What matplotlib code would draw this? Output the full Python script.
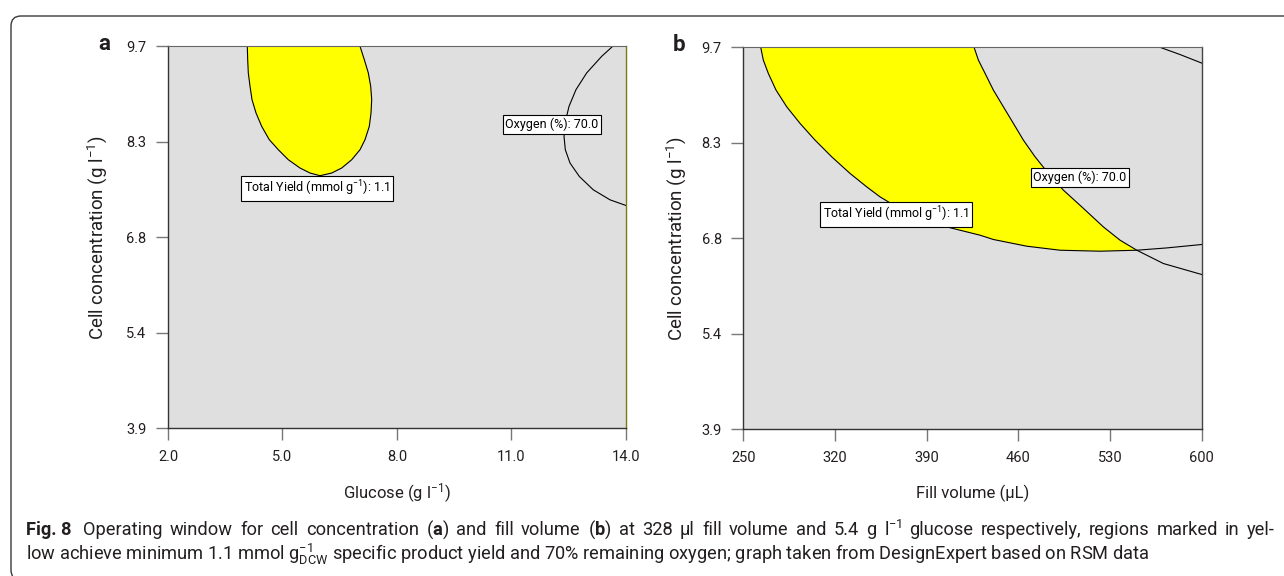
import numpy as np
import matplotlib
matplotlib.use("Agg")
import matplotlib.pyplot as plt
from matplotlib import font_manager
from matplotlib.patches import FancyBboxPatch


# values
glucose_ticks = [2.0, 5.0, 8.0, 11.0, 14.0]
fill_ticks = [250, 320, 390, 460, 530, 600]
conc_ticks = [3.9, 5.35, 6.8, 8.25, 9.7]
conc_ticklabels = ["3.9", "5.4", "6.8", "8.3", "9.7"]

# panel a: total yield = 1.1 contour (closes on the top edge)
yield_a_glucose = [4.078, 4.088, 4.104, 4.149, 4.201, 4.306, 4.455, 4.654, 4.890,
                   5.152, 5.459, 5.721, 5.983, 6.289, 6.551, 6.813, 7.031, 7.162,
                   7.274, 7.319, 7.337, 7.311, 7.248, 7.143, 7.031]
yield_a_conc = [9.700, 9.498, 9.296, 9.092, 8.890, 8.688, 8.484, 8.282, 8.130,
                7.978, 7.852, 7.776, 7.735, 7.776, 7.852, 7.978, 8.130, 8.282,
                8.484, 8.688, 8.890, 9.092, 9.296, 9.498, 9.700]

# panel a: oxygen = 70 % contour
oxygen_a_glucose = [13.652, 13.364, 12.970, 12.690, 12.507, 12.402, 12.376,
                    12.410, 12.533, 12.777, 13.143, 13.581, 14.000]
oxygen_a_conc = [9.700, 9.548, 9.296, 9.042, 8.788, 8.536, 8.332,
                 8.130, 7.928, 7.724, 7.521, 7.369, 7.283]

# panel b: total yield = 1.1 contour
yield_b_fill = [263.29, 265.27, 269.09, 274.97, 283.14, 293.29, 304.74, 317.50,
                331.47, 344.22, 354.38, 367.13, 384.92, 405.30, 430.73, 440.88,
                466.38, 491.81, 522.35, 550.37, 573.28, 600.00]
yield_b_conc = [9.700, 9.507, 9.304, 9.051, 8.797, 8.545, 8.291, 8.037,
                7.785, 7.581, 7.429, 7.277, 7.125, 6.973, 6.847, 6.782,
                6.680, 6.619, 6.604, 6.619, 6.654, 6.706]

# panel b: oxygen = 70 % contours
oxygen_b_fill = [426.15, 429.43, 434.55, 440.88, 448.52, 456.15, 463.79, 472.72,
                 482.88, 494.33, 508.38, 524.87, 537.62, 550.37, 570.68, 600.00]
oxygen_b_conc = [9.700, 9.507, 9.304, 9.051, 8.797, 8.545, 8.291, 8.037,
                 7.785, 7.531, 7.277, 6.973, 6.771, 6.619, 6.417, 6.250]
oxygen_b2_fill = [568.1, 583.4, 600.0]
oxygen_b2_conc = [9.70, 9.59, 9.46]

# where yield and oxygen contours cross in panel b (index in each list)
cross_yield_b = 19
cross_oxygen_b = 13

yield_label = "Total Yield (mmol g$^{-1}$): 1.1"
oxygen_label = "Oxygen (%): 70.0"
label_pos_a = {"yield": (5.90, 7.54), "oxygen": (12.06, 8.51)}
label_pos_b = {"yield": (366.7, 7.16), "oxygen": (507.0, 7.73)}

caption_1 = (r"Operating window for cell concentration ($\mathbf{a}$) and fill volume "
             r"($\mathbf{b}$) at 328 µl fill volume and 5.4 g l$^{-1}$ glucose "
             r"respectively, regions marked in yel-")
caption_2 = (r"low achieve minimum 1.1 mmol g$_{\mathrm{DCW}}^{-1}$ specific product "
             r"yield and 70% remaining oxygen; graph taken from DesignExpert based on RSM data")


def pick_font(*names):
    have = {f.name for f in font_manager.fontManager.ttflist}
    for n in names:
        if n in have:
            return n
    return "DejaVu Sans"


FONT = pick_font("Roboto", "Lato", "Open Sans", "Noto Sans")
plt.rcParams["font.family"] = [FONT, "DejaVu Sans"]
plt.rcParams["mathtext.fontset"] = "custom"
plt.rcParams["mathtext.rm"] = FONT
plt.rcParams["mathtext.bf"] = FONT + ":bold"
plt.rcParams["mathtext.it"] = FONT + ":italic"

BG = "#dfdfdf"
YELLOW = "#ffff00"
TXT = "#231f20"
BOX = dict(boxstyle="square,pad=0.22", fc="white", ec="black", lw=0.8)


def style_axes(ax, xticks, xfmt, xlabel, letter, xlab_y, ylab_x, right_color):
    ax.set_facecolor(BG)
    ax.set_ylim(3.9, 9.7)
    ax.set_yticks(conc_ticks)
    ax.set_yticklabels(conc_ticklabels)
    ax.set_xticks(xticks)
    ax.set_xticklabels([xfmt.format(v) for v in xticks])
    ax.tick_params(length=8.5, width=1.0, color="#777777", labelsize=10.5,
                   labelcolor=TXT, pad=7)
    for s in ["left", "bottom"]:
        ax.spines[s].set_color("#333333")
        ax.spines[s].set_linewidth(1.0)
    ax.spines["top"].set_color("#666666")
    ax.spines["right"].set_color(right_color)
    ax.spines["right"].set_linewidth(1.0)
    ax.set_xlabel(xlabel, fontsize=12, color=TXT, va="center")
    ax.xaxis.set_label_coords(0.5, xlab_y)
    ax.set_ylabel("Cell concentration (g l$^{-1}$)", fontsize=13.5, color=TXT, va="center")
    ax.yaxis.set_label_coords(ylab_x, 0.5)
    ax.text(-0.14, 1.007, letter, transform=ax.transAxes, fontsize=16,
            fontweight="bold", ha="center", va="center", color=TXT)


fig = plt.figure(figsize=(12.84, 5.76), dpi=100)

# rounded frame around the whole figure
frame = FancyBboxPatch((0.11, 5.76 - 5.80), 13.2, 5.64,
                       boxstyle="round,pad=0,rounding_size=0.1",
                       transform=fig.dpi_scale_trans, fc="none", ec="#3a3a3a", lw=1.0,
                       clip_on=False)
fig.patches.append(frame)

# ---- panel a ----
ax_a = fig.add_axes([168 / 1284, 1 - 428.3 / 576, 458 / 1284, 382 / 576])
ax_a.set_xlim(2.0, 14.0)
ax_a.fill(yield_a_glucose, yield_a_conc, color=YELLOW, lw=0, zorder=1)
ax_a.plot(yield_a_glucose, yield_a_conc, color="black", lw=0.8, zorder=2)
ax_a.plot(oxygen_a_glucose, oxygen_a_conc, color="black", lw=0.8, zorder=2)
ax_a.text(*label_pos_a["yield"], yield_label, fontsize=9, ha="center", va="center",
          bbox=BOX, zorder=3)
ax_a.text(*label_pos_a["oxygen"], oxygen_label, fontsize=9, ha="center", va="center",
          bbox=BOX, zorder=3)
style_axes(ax_a, glucose_ticks, "{:.1f}", "Glucose (g l$^{-1}$)", "a",
           -0.170, -0.155, "#7a7a10")

# ---- panel b ----
ax_b = fig.add_axes([743.3 / 1284, 1 - 429.3 / 576, 458.5 / 1284, 382 / 576])
ax_b.set_xlim(250, 600)
region_x = np.concatenate([yield_b_fill[:cross_yield_b + 1],
                           oxygen_b_fill[:cross_oxygen_b + 1][::-1]])
region_y = np.concatenate([yield_b_conc[:cross_yield_b + 1],
                           oxygen_b_conc[:cross_oxygen_b + 1][::-1]])
ax_b.fill(region_x, region_y, color=YELLOW, lw=0, zorder=1)
ax_b.plot(yield_b_fill, yield_b_conc, color="black", lw=0.8, zorder=2)
ax_b.plot(oxygen_b_fill, oxygen_b_conc, color="black", lw=0.8, zorder=2)
ax_b.plot(oxygen_b2_fill, oxygen_b2_conc, color="black", lw=0.8, zorder=2)
ax_b.text(*label_pos_b["yield"], yield_label, fontsize=9, ha="center", va="center",
          bbox=BOX, zorder=3)
ax_b.text(*label_pos_b["oxygen"], oxygen_label, fontsize=9, ha="center", va="center",
          bbox=BOX, zorder=3)
style_axes(ax_b, fill_ticks, "{:d}", "Fill volume (µL)", "b",
           -0.167, -0.147, "#444444")

# ---- caption ----
renderer = fig.canvas.get_renderer()
W, H = 1284, 576

# size the last line so it ends where it does in the reference
t2 = fig.text(26 / W, 1 - 554 / H, caption_2, fontsize=11, color=TXT, va="center")
size = 11 * (1148 - 26) / t2.get_window_extent(renderer).width
t2.set_fontsize(size)

fig.text(26 / W, 1 - 530 / H, "Fig. 8", fontsize=size, fontweight="bold",
         color=TXT, va="center")

# first line is justified between x=83 and x=1275
words = [fig.text(0, 1 - 530 / H, w, fontsize=size, color=TXT, va="center")
         for w in caption_1.split(" ")]
widths = [t.get_window_extent(renderer).width for t in words]
gap = (1275 - 83 - sum(widths)) / (len(words) - 1)
x = 83.0
for t, w in zip(words, widths):
    t.set_x(x / W)
    x += w + gap

fig.savefig("out.png", dpi=100)
